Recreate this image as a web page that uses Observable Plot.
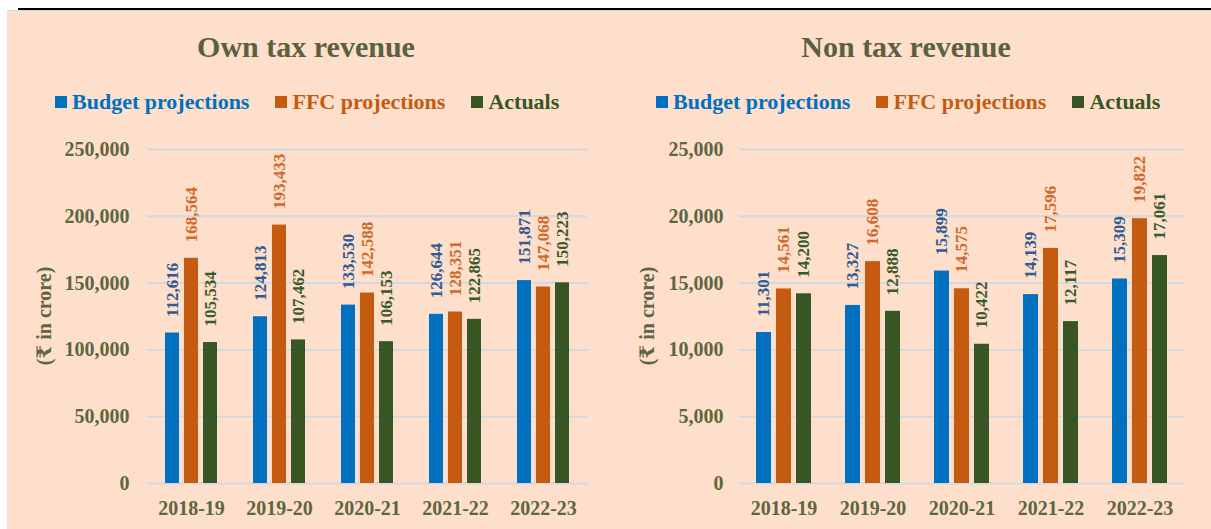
<!DOCTYPE html>
<html>
<head>
<meta charset="utf-8">
<script src="https://cdn.jsdelivr.net/npm/d3@7"></script>
<script src="https://cdn.jsdelivr.net/npm/@observablehq/plot@0.6"></script>
<style>
  html, body { margin: 0; padding: 0; background: #ffffff; }
  body { width: 1211px; height: 529px; position: relative; overflow: hidden;
         font-family: "Liberation Serif", "Times New Roman", "DejaVu Serif", serif; font-weight: bold; }
  #topline { position: absolute; left: 18px; top: 8px; width: 1193px; height: 2px; background: #000; }
  #bg { position: absolute; left: 7px; top: 10px; right: 0; bottom: 0; background: #fddfcb; border-top: 1px solid #d9d4d0; }
  .title { position: absolute; top: 47px; transform: translate(-50%, -50%); white-space: nowrap;
           font-size: 30px; color: #5b6140; }
  .legend { position: absolute; top: 102px; transform: translateY(-50%); display: flex; align-items: center;
            font-size: 22px; white-space: nowrap; }
  .legend .item { display: flex; align-items: center; margin-right: 26px; }
  .legend .item:last-child { margin-right: 0; }
  .legend .sw { width: 12px; height: 12px; margin-right: 5px; }
  .ytitle { position: absolute; transform: translate(-50%, -50%) rotate(-90deg); white-space: nowrap;
            font-size: 20px; color: #5e6640; }
  .plot { position: absolute; top: 130px; }
</style>
</head>
<body>
<div id="topline"></div>
<div id="bg"></div>
<div id="root"></div>
<script>
const years = ["2018-19", "2019-20", "2020-21", "2021-22", "2022-23"];
const series = ["Budget projections", "FFC projections", "Actuals"];

const ownBudget = [112616, 124813, 133530, 126644, 151871];
const ownFFC    = [168564, 193433, 142588, 128351, 147068];
const ownActual = [105534, 107462, 106153, 122865, 150223];

const nonBudget = [11301, 13327, 15899, 14139, 15309];
const nonFFC    = [14561, 16608, 14575, 17596, 19822];
const nonActual = [14200, 12888, 10422, 12117, 17061];

const ownTicks = [0, 50000, 100000, 150000, 200000, 250000];
const nonTicks = [0, 5000, 10000, 15000, 20000, 25000];

const titles = ["Own tax revenue", "Non tax revenue"];
const yTitle = "(₹ in crore)";

const barColors = ["#0070c0", "#c55a11", "#375623"];
const labelColors = ["#2f5b93", "#d0692a", "#3b5a2b"];
const legendColors = ["#0070c0", "#c55a11", "#375623"];

const fmt = d3.format(",");
const serif = '"Liberation Serif", "Times New Roman", "DejaVu Serif", serif';

function buildRows(b, f, a) {
  const rows = [];
  years.forEach((y, i) => {
    [b, f, a].forEach((arr, k) => rows.push({year: y, series: series[k], value: arr[i]}));
  });
  return rows;
}

function chart(rows, ticks, o) {
  return Plot.plot({
    width: o.width,
    height: 390,
    marginLeft: o.ml,
    marginRight: o.mr,
    marginTop: 19,
    marginBottom: 37,
    style: {background: "transparent", fontFamily: serif, fontWeight: "bold", fontSize: "20px", color: "#5e6640", overflow: "visible"},
    facet: {data: rows, x: "year"},
    fx: {domain: years, padding: 0, label: null, axis: "bottom", tickSize: 0, tickPadding: 17},
    x: {domain: series, axis: null, paddingInner: 0.25, paddingOuter: 0.84},
    y: {domain: [0, ticks[ticks.length - 1]], ticks: ticks, tickFormat: fmt, tickSize: 0, tickPadding: o.tp, label: null},
    color: {domain: series, range: barColors},
    marks: [
      Plot.ruleY(ticks, {stroke: "#d3d9e0", strokeWidth: 2}),
      Plot.barY(rows, {x: "series", y: "value", fill: "series"}),
      ...series.map((s, k) => Plot.text(rows, {
        filter: d => d.series === s,
        x: "series", y: "value",
        text: d => fmt(d.value),
        rotate: -90, textAnchor: "start", dy: -16,
        fill: labelColors[k], fontSize: 17, fontWeight: "bold"
      }))
    ]
  });
}

const root = document.getElementById("root");

function addPanel(idx, rows, ticks, o) {
  const t = document.createElement("div");
  t.className = "title";
  t.style.left = o.titleX + "px";
  t.textContent = titles[idx];
  root.appendChild(t);

  const lg = document.createElement("div");
  lg.className = "legend";
  lg.style.left = o.legendX + "px";
  series.forEach((s, k) => {
    const it = document.createElement("div");
    it.className = "item";
    const sw = document.createElement("div");
    sw.className = "sw";
    sw.style.background = barColors[k];
    const tx = document.createElement("span");
    tx.textContent = s;
    tx.style.color = legendColors[k];
    it.appendChild(sw); it.appendChild(tx);
    lg.appendChild(it);
  });
  root.appendChild(lg);

  const yt = document.createElement("div");
  yt.className = "ytitle";
  yt.style.left = o.yTitleX + "px";
  yt.style.top = "316px";
  yt.textContent = yTitle;
  root.appendChild(yt);

  const p = chart(rows, ticks, o);
  const wrap = document.createElement("div");
  wrap.className = "plot";
  wrap.style.left = o.left + "px";
  wrap.appendChild(p);
  root.appendChild(wrap);
}

addPanel(0, buildRows(ownBudget, ownFFC, ownActual), ownTicks,
  {left: 0, width: 600, ml: 145, mr: 12, tp: 18, titleX: 306, legendX: 55, yTitleX: 44});
addPanel(1, buildRows(nonBudget, nonFFC, nonActual), nonTicks,
  {left: 600, width: 611, ml: 137, mr: 26, tp: 16, titleX: 906, legendX: 656, yTitleX: 647});
</script>
</body>
</html>
